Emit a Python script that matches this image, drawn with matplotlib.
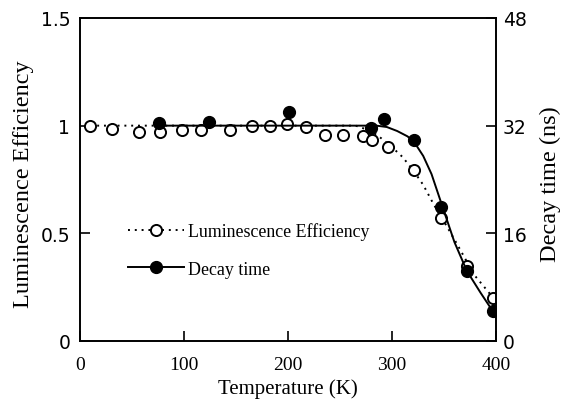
import matplotlib
matplotlib.use('Agg')
import matplotlib.pyplot as plt
from matplotlib.lines import Line2D

# luminescence efficiency (open circles, left axis)
eff_T = [10, 31, 57, 77, 98, 116, 144, 165, 183, 199, 217, 236, 253, 272, 281, 296, 321, 347, 372, 397]
eff_val = [1.0, 0.983, 0.971, 0.971, 0.978, 0.978, 0.978, 0.997, 0.997, 1.009, 0.994,
           0.955, 0.955, 0.952, 0.935, 0.90, 0.793, 0.569, 0.35, 0.199]

# decay time (filled circles, right axis, ns)
decay_T = [76, 124, 201, 280, 292, 321, 347, 372, 397]
decay_ns = [32.4, 32.5, 34.0, 31.7, 33.0, 29.9, 19.9, 10.4, 4.4]

# fitted curves
eff_fit_T = [10, 265, 280, 290, 300, 310, 320, 330, 340, 350, 363, 379, 395, 400]
eff_fit = [1.0, 1.0, 0.975, 0.94, 0.90, 0.855, 0.795, 0.725, 0.635, 0.555, 0.446, 0.307, 0.214, 0.19]

decay_fit_T = [76, 285, 295, 305, 315, 322, 330, 338, 348, 360, 372, 385, 397, 400]
decay_fit_ns = [32.0, 32.0, 31.8, 31.2, 30.4, 29.4, 27.5, 24.8, 20.2, 14.7, 10.4, 7.2, 4.4, 4.0]

serif = 'Liberation Serif'

fig = plt.figure(figsize=(5.62, 4.10), dpi=100)
ax = fig.add_axes([0.1423, 0.1659, 0.7403, 0.7878])
ax2 = ax.twinx()

ax.plot(eff_fit_T, eff_fit, color='black', linestyle=(0, (1, 2.5)), linewidth=1.4)
ax.plot(eff_T, eff_val, linestyle='none', marker='o', markersize=8,
        markerfacecolor='white', markeredgecolor='black', markeredgewidth=1.4)

ax2.plot(decay_fit_T, decay_fit_ns, color='black', linewidth=1.4)
ax2.plot(decay_T, decay_ns, linestyle='none', marker='o', markersize=8.5, color='black')

ax.set_xlim(0, 400)
ax.set_ylim(0, 1.5)
ax2.set_ylim(0, 48)

ax.set_xticks([0, 100, 200, 300, 400])
ax.set_yticks([0, 0.5, 1, 1.5])
ax.set_yticklabels(['0', '0.5', '1', '1.5'])
ax2.set_yticks([0, 16, 32, 48])

ax.tick_params(axis='x', direction='in', length=7, width=1.2, pad=10.5, labelsize=14)
ax.tick_params(axis='y', direction='in', length=7, width=1.2, pad=7, labelsize=13.5)
ax2.tick_params(axis='y', direction='in', length=7, width=1.2, pad=5, labelsize=13.5)
for lab in ax.get_xticklabels():
    lab.set_family(serif)
for s in list(ax.spines.values()) + list(ax2.spines.values()):
    s.set_linewidth(1.2)

ax.set_xlabel('Temperature (K)', family=serif, fontsize=15)
ax.set_ylabel('Luminescence Efficiency', family=serif, fontsize=17.5)
ax2.set_ylabel('Decay time (ns)', family=serif, fontsize=17.5)
ax.xaxis.set_label_coords(0.5, -0.1146)
ax.yaxis.set_label_coords(-0.1106, 0.49)
ax2.yaxis.set_label_coords(1.106, 0.49)

handles = [
    Line2D([], [], color='black', linestyle=(0, (1, 2.5)), linewidth=1.4, marker='o',
           markersize=8, markerfacecolor='white', markeredgecolor='black', markeredgewidth=1.4),
    Line2D([], [], color='black', linewidth=1.4, marker='o', markersize=8.5),
]
ax.legend(handles, ['Luminescence Efficiency', 'Decay time'], loc='upper left',
          bbox_to_anchor=(0.1154, 0.368), frameon=False, prop={'family': serif, 'size': 12.9},
          handlelength=3.1, handletextpad=0.23, labelspacing=1.15,
          borderpad=0, borderaxespad=0)

fig.savefig('out.png', dpi=100)
